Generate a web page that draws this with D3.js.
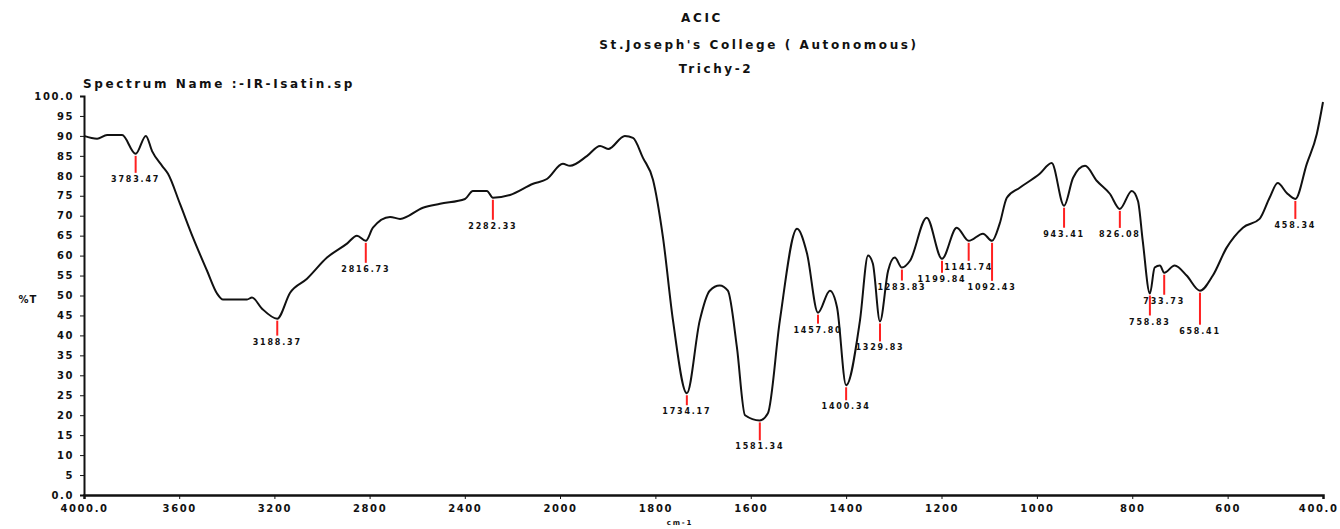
<!DOCTYPE html>
<html>
<head>
<meta charset="utf-8">
<script src="https://cdn.jsdelivr.net/npm/d3@7"></script>
<style>
  html, body { margin: 0; padding: 0; background: #fff; }
  svg { display: block; }
  .title { font-family: "DejaVu Sans", sans-serif; font-weight: bold; font-size: 12px; letter-spacing: 2.6px; fill: #111; }
  .axis text { font-family: "DejaVu Sans", sans-serif; font-weight: bold; font-size: 10px; letter-spacing: 1.6px; fill: #111; }
  .axis path, .axis line { stroke: #111; }
  .peak-label { font-family: "DejaVu Sans", sans-serif; font-weight: bold; font-size: 8px; letter-spacing: 1.8px; fill: #111; }
</style>
</head>
<body>
<div id="chart"></div>
<script>
// ── Data ──────────────────────────────────────────────────────────────────
const wavenumber = [
  4000, 3945, 3903, 3840, 3783, 3740, 3714, 3672, 3647, 3597, 3542, 3483, 3441, 3416,
  3315, 3294, 3252, 3188, 3134, 3063, 2979, 2895, 2853, 2816, 2786, 2714, 2672, 2576,
  2504, 2399, 2366, 2307, 2282, 2210, 2113, 2055, 1994, 1979, 1943, 1916, 1899, 1864,
  1847, 1826, 1805, 1784, 1763, 1734, 1707, 1686, 1665, 1648, 1629, 1612, 1581, 1564,
  1539, 1503, 1482, 1459, 1434, 1419, 1400, 1371, 1354, 1344, 1329, 1312, 1298, 1283,
  1266, 1231, 1199, 1168, 1143, 1113, 1094, 1078, 1063, 1036, 994, 969, 943, 924,
  899, 874, 847, 826, 801, 788, 778, 763, 753, 742, 733, 711, 686, 658,
  631, 602, 568, 533, 512, 495, 476, 458, 434, 413, 400
];
const transmittance = [
  90.0, 89.3, 90.2, 90.2, 85.5, 90.0, 86.2, 82.5, 80.5, 73.0, 64.5, 56.2, 50.5, 49.0,
  49.0, 49.5, 46.7, 44.2, 50.7, 54.2, 59.5, 63.0, 65.0, 63.7, 67.0, 69.7, 69.2, 72.0,
  73.0, 74.2, 76.2, 76.2, 74.5, 75.2, 78.0, 79.2, 83.0, 82.5, 85.0, 87.5, 86.7, 90.0,
  89.5, 84.5, 79.0, 64.5, 43.7, 25.5, 43.7, 51.2, 52.5, 51.2, 37.0, 20.0, 18.7, 20.5,
  43.7, 66.7, 60.5, 45.7, 51.2, 47.0, 27.5, 43.7, 60.0, 58.0, 43.5, 56.2, 59.5, 57.0,
  58.7, 69.5, 59.2, 67.0, 63.7, 65.5, 63.7, 68.0, 74.5, 77.0, 80.5, 83.2, 72.5, 79.5,
  82.5, 78.7, 75.5, 71.7, 76.2, 73.7, 63.7, 50.5, 57.0, 57.5, 55.7, 57.5, 55.0, 51.2,
  55.0, 62.0, 67.0, 69.2, 74.5, 78.2, 75.7, 74.2, 83.0, 90.5, 98.5
];

// labelled peaks
const peakWave  = [3783, 3188, 2816, 2282, 1734, 1581, 1459, 1400, 1329, 1283, 1199, 1143, 1094, 943, 826, 763, 733, 658, 458];
const peakT     = [85.5, 44.2, 63.7, 74.5, 25.5, 18.7, 45.7, 27.5, 43.5, 57.0, 59.2, 63.7, 63.7, 72.5, 71.7, 50.5, 55.7, 51.2, 74.2];
const peakText  = ["3783.47", "3188.37", "2816.73", "2282.33", "1734.17", "1581.34", "1457.80", "1400.34", "1329.83",
                   "1283.83", "1199.84", "1141.74", "1092.43", "943.41", "826.08", "758.83", "733.73", "658.41", "458.34"];

// axis ticks
const xTicks      = [4000, 3600, 3200, 2800, 2400, 2000, 1800, 1600, 1400, 1200, 1000, 800, 600, 400];
const xTickLabels = ["4000.0", "3600", "3200", "2800", "2400", "2000", "1800", "1600", "1400", "1200", "1000", "800", "600", "400.0"];
const yTicks      = d3.range(0, 101, 5);
const yTickLabels = yTicks.map(v => v === 0 ? "0.0" : v === 100 ? "100.0" : String(v));

// ── Layout ────────────────────────────────────────────────────────────────
const totalW = 1340, totalH = 529;
const plotL = 84, plotR = 1323, plotT = 96, plotB = 495;
// red marker length (px) per peak
const markerLen = [17, 15, 20, 20, 10, 18, 9, 13, 18, 11, 12, 18, 38, 20, 17, 20, 20, 32, 18];

const svg = d3.select("#chart").append("svg")
  .attr("width", totalW)
  .attr("height", totalH);

// ── Scales (expanded below 2000 cm-1) ────────────────────────────────────
const x = d3.scaleLinear().domain([4000, 2000, 400]).range([plotL, 560, plotR]);
const y = d3.scaleLinear().domain([0, 100]).range([plotB, plotT]);

// ── Titles ────────────────────────────────────────────────────────────────
const titles = [
  { t: "ACIC", cx: 702, cy: 22 },
  { t: "St.Joseph's College ( Autonomous)", cx: 759, cy: 49 },
  { t: "Trichy-2", cx: 716, cy: 73 },
];
titles.forEach(d => {
  svg.append("text").attr("class", "title")
    .attr("x", d.cx).attr("y", d.cy)
    .attr("text-anchor", "middle")
    .text(d.t);
});
svg.append("text").attr("class", "title")
  .attr("x", 83).attr("y", 88)
  .text("Spectrum Name :-IR-Isatin.sp");

// ── Axes ──────────────────────────────────────────────────────────────────
const yAxis = svg.append("g").attr("class", "axis")
  .attr("transform", `translate(${plotL},0)`)
  .call(d3.axisLeft(y).tickValues(yTicks).tickSize(4).tickPadding(6)
    .tickFormat((d, i) => yTickLabels[i]));
yAxis.select(".domain").attr("stroke-width", 2);

const xAxis = svg.append("g").attr("class", "axis")
  .attr("transform", `translate(0,${plotB})`)
  .call(d3.axisBottom(x).tickValues(xTicks).tickSize(4).tickPadding(6)
    .tickFormat((d, i) => xTickLabels[i]));
xAxis.select(".domain").attr("stroke-width", 2.5).attr("stroke", "#333");
// keep the last label inside the page
xAxis.selectAll(".tick text").filter(d => d === 400)
  .attr("text-anchor", "end").attr("dx", 15);

svg.append("text").attr("class", "title")
  .attr("x", 28).attr("y", 303)
  .attr("text-anchor", "middle")
  .style("font-size", "10px")
  .style("letter-spacing", "1px")
  .text("%T");

svg.append("text").attr("class", "peak-label")
  .attr("x", 680).attr("y", 525)
  .attr("text-anchor", "middle")
  .style("font-size", "7px")
  .text("cm-1");

// ── Spectrum line ─────────────────────────────────────────────────────────
const points = wavenumber.map((w, i) => [w, transmittance[i]]);
svg.append("path")
  .datum(points)
  .attr("fill", "none")
  .attr("stroke", "#111")
  .attr("stroke-width", 2)
  .attr("stroke-linejoin", "round")
  .attr("d", d3.line()
    .x(d => x(d[0]))
    .y(d => y(d[1]))
    .curve(d3.curveMonotoneX));

// ── Peak markers ──────────────────────────────────────────────────────────
peakWave.forEach((w, i) => {
  const px = x(w), py = y(peakT[i]) + 2;
  svg.append("line")
    .attr("x1", px).attr("x2", px)
    .attr("y1", py).attr("y2", py + markerLen[i])
    .attr("stroke", "#ff2020")
    .attr("stroke-width", 2);
  svg.append("text").attr("class", "peak-label")
    .attr("x", px).attr("y", py + markerLen[i] + 9)
    .attr("text-anchor", "middle")
    .text(peakText[i]);
});
</script>
</body>
</html>
